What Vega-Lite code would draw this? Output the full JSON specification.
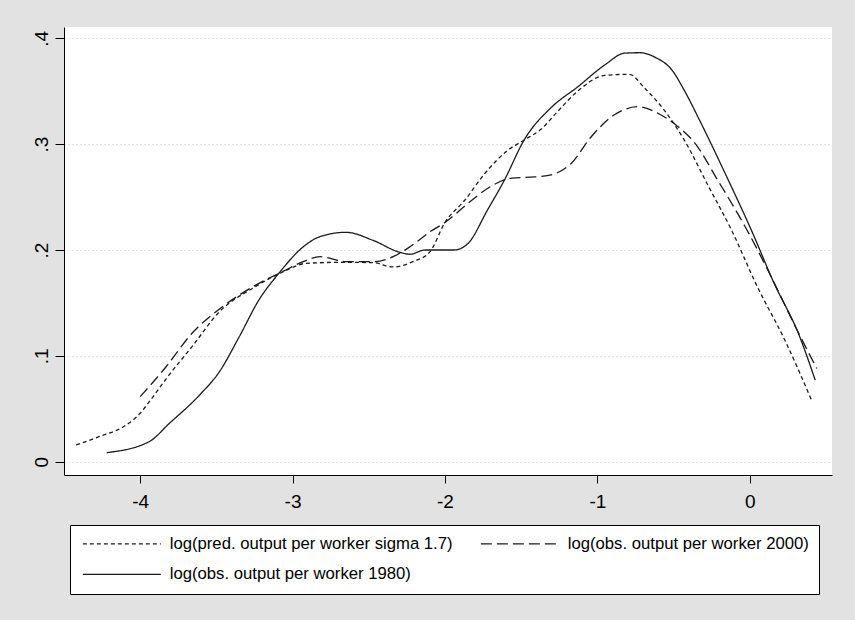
{
  "$schema": "https://vega.github.io/schema/vega-lite/v6.json",
  "width": 768,
  "height": 448,
  "autosize": {"type": "none"},
  "padding": {"left": 64, "top": 27, "right": 23, "bottom": 145},
  "background": "#e2e2e2",
  "config": {
    "view": {"fill": "white", "stroke": null},
    "font": "Liberation Sans",
    "axis": {
      "domainColor": "black", "domainWidth": 1, "tickColor": "black", "tickWidth": 1,
      "labelColor": "black", "labelFont": "Liberation Sans", "labelFontSize": 19, "title": null
    }
  },
  "data": {"values": [
    {"s": "log(pred. output per worker sigma  1.7)", "x": -4.42, "y": 0.0158},
    {"s": "log(pred. output per worker sigma  1.7)", "x": -4.27, "y": 0.0236},
    {"s": "log(pred. output per worker sigma  1.7)", "x": -4.11, "y": 0.033},
    {"s": "log(pred. output per worker sigma  1.7)", "x": -4.0, "y": 0.0457},
    {"s": "log(pred. output per worker sigma  1.7)", "x": -3.94, "y": 0.0567},
    {"s": "log(pred. output per worker sigma  1.7)", "x": -3.81, "y": 0.082},
    {"s": "log(pred. output per worker sigma  1.7)", "x": -3.66, "y": 0.1087},
    {"s": "log(pred. output per worker sigma  1.7)", "x": -3.48, "y": 0.1417},
    {"s": "log(pred. output per worker sigma  1.7)", "x": -3.26, "y": 0.164},
    {"s": "log(pred. output per worker sigma  1.7)", "x": -3.06, "y": 0.1795},
    {"s": "log(pred. output per worker sigma  1.7)", "x": -2.91, "y": 0.1874},
    {"s": "log(pred. output per worker sigma  1.7)", "x": -2.65, "y": 0.1884},
    {"s": "log(pred. output per worker sigma  1.7)", "x": -2.47, "y": 0.188},
    {"s": "log(pred. output per worker sigma  1.7)", "x": -2.34, "y": 0.184},
    {"s": "log(pred. output per worker sigma  1.7)", "x": -2.21, "y": 0.189},
    {"s": "log(pred. output per worker sigma  1.7)", "x": -2.10, "y": 0.198},
    {"s": "log(pred. output per worker sigma  1.7)", "x": -2.00, "y": 0.226},
    {"s": "log(pred. output per worker sigma  1.7)", "x": -1.87, "y": 0.247},
    {"s": "log(pred. output per worker sigma  1.7)", "x": -1.74, "y": 0.272},
    {"s": "log(pred. output per worker sigma  1.7)", "x": -1.59, "y": 0.294},
    {"s": "log(pred. output per worker sigma  1.7)", "x": -1.48, "y": 0.304},
    {"s": "log(pred. output per worker sigma  1.7)", "x": -1.37, "y": 0.314},
    {"s": "log(pred. output per worker sigma  1.7)", "x": -1.26, "y": 0.331},
    {"s": "log(pred. output per worker sigma  1.7)", "x": -1.13, "y": 0.350},
    {"s": "log(pred. output per worker sigma  1.7)", "x": -0.95, "y": 0.365},
    {"s": "log(pred. output per worker sigma  1.7)", "x": -0.79, "y": 0.366},
    {"s": "log(pred. output per worker sigma  1.7)", "x": -0.69, "y": 0.353},
    {"s": "log(pred. output per worker sigma  1.7)", "x": -0.56, "y": 0.332},
    {"s": "log(pred. output per worker sigma  1.7)", "x": -0.43, "y": 0.304},
    {"s": "log(pred. output per worker sigma  1.7)", "x": -0.27, "y": 0.260},
    {"s": "log(pred. output per worker sigma  1.7)", "x": -0.12, "y": 0.219},
    {"s": "log(pred. output per worker sigma  1.7)", "x": 0.05, "y": 0.1653},
    {"s": "log(pred. output per worker sigma  1.7)", "x": 0.23, "y": 0.115},
    {"s": "log(pred. output per worker sigma  1.7)", "x": 0.41, "y": 0.0567},

    {"s": "log(obs. output per worker 2000)", "x": -4.0, "y": 0.0614},
    {"s": "log(obs. output per worker 2000)", "x": -3.83, "y": 0.0897},
    {"s": "log(obs. output per worker 2000)", "x": -3.66, "y": 0.1213},
    {"s": "log(obs. output per worker 2000)", "x": -3.46, "y": 0.1464},
    {"s": "log(obs. output per worker 2000)", "x": -3.26, "y": 0.1653},
    {"s": "log(obs. output per worker 2000)", "x": -3.06, "y": 0.180},
    {"s": "log(obs. output per worker 2000)", "x": -2.93, "y": 0.189},
    {"s": "log(obs. output per worker 2000)", "x": -2.82, "y": 0.1937},
    {"s": "log(obs. output per worker 2000)", "x": -2.65, "y": 0.189},
    {"s": "log(obs. output per worker 2000)", "x": -2.47, "y": 0.189},
    {"s": "log(obs. output per worker 2000)", "x": -2.34, "y": 0.1937},
    {"s": "log(obs. output per worker 2000)", "x": -2.23, "y": 0.203},
    {"s": "log(obs. output per worker 2000)", "x": -2.10, "y": 0.217},
    {"s": "log(obs. output per worker 2000)", "x": -2.00, "y": 0.226},
    {"s": "log(obs. output per worker 2000)", "x": -1.85, "y": 0.244},
    {"s": "log(obs. output per worker 2000)", "x": -1.70, "y": 0.260},
    {"s": "log(obs. output per worker 2000)", "x": -1.56, "y": 0.268},
    {"s": "log(obs. output per worker 2000)", "x": -1.41, "y": 0.269},
    {"s": "log(obs. output per worker 2000)", "x": -1.28, "y": 0.272},
    {"s": "log(obs. output per worker 2000)", "x": -1.17, "y": 0.282},
    {"s": "log(obs. output per worker 2000)", "x": -1.04, "y": 0.307},
    {"s": "log(obs. output per worker 2000)", "x": -0.89, "y": 0.3275},
    {"s": "log(obs. output per worker 2000)", "x": -0.73, "y": 0.3354},
    {"s": "log(obs. output per worker 2000)", "x": -0.60, "y": 0.329},
    {"s": "log(obs. output per worker 2000)", "x": -0.47, "y": 0.3165},
    {"s": "log(obs. output per worker 2000)", "x": -0.36, "y": 0.301},
    {"s": "log(obs. output per worker 2000)", "x": -0.21, "y": 0.266},
    {"s": "log(obs. output per worker 2000)", "x": -0.03, "y": 0.222},
    {"s": "log(obs. output per worker 2000)", "x": 0.14, "y": 0.175},
    {"s": "log(obs. output per worker 2000)", "x": 0.30, "y": 0.1275},
    {"s": "log(obs. output per worker 2000)", "x": 0.44, "y": 0.088},

    {"s": "log(obs. output per worker 1980)", "x": -4.22, "y": 0.0085},
    {"s": "log(obs. output per worker 1980)", "x": -3.94, "y": 0.019},
    {"s": "log(obs. output per worker 1980)", "x": -3.81, "y": 0.036},
    {"s": "log(obs. output per worker 1980)", "x": -3.61, "y": 0.063},
    {"s": "log(obs. output per worker 1980)", "x": -3.48, "y": 0.085},
    {"s": "log(obs. output per worker 1980)", "x": -3.35, "y": 0.118},
    {"s": "log(obs. output per worker 1980)", "x": -3.22, "y": 0.153},
    {"s": "log(obs. output per worker 1980)", "x": -3.09, "y": 0.178},
    {"s": "log(obs. output per worker 1980)", "x": -2.93, "y": 0.203},
    {"s": "log(obs. output per worker 1980)", "x": -2.82, "y": 0.2126},
    {"s": "log(obs. output per worker 1980)", "x": -2.65, "y": 0.2167},
    {"s": "log(obs. output per worker 1980)", "x": -2.47, "y": 0.209},
    {"s": "log(obs. output per worker 1980)", "x": -2.30, "y": 0.198},
    {"s": "log(obs. output per worker 1980)", "x": -2.23, "y": 0.196},
    {"s": "log(obs. output per worker 1980)", "x": -2.13, "y": 0.200},
    {"s": "log(obs. output per worker 1980)", "x": -1.94, "y": 0.200},
    {"s": "log(obs. output per worker 1980)", "x": -1.85, "y": 0.206},
    {"s": "log(obs. output per worker 1980)", "x": -1.72, "y": 0.238},
    {"s": "log(obs. output per worker 1980)", "x": -1.61, "y": 0.266},
    {"s": "log(obs. output per worker 1980)", "x": -1.48, "y": 0.304},
    {"s": "log(obs. output per worker 1980)", "x": -1.30, "y": 0.335},
    {"s": "log(obs. output per worker 1980)", "x": -1.13, "y": 0.354},
    {"s": "log(obs. output per worker 1980)", "x": -0.95, "y": 0.375},
    {"s": "log(obs. output per worker 1980)", "x": -0.82, "y": 0.386},
    {"s": "log(obs. output per worker 1980)", "x": -0.72, "y": 0.3864},
    {"s": "log(obs. output per worker 1980)", "x": -0.62, "y": 0.382},
    {"s": "log(obs. output per worker 1980)", "x": -0.51, "y": 0.370},
    {"s": "log(obs. output per worker 1980)", "x": -0.43, "y": 0.351},
    {"s": "log(obs. output per worker 1980)", "x": -0.32, "y": 0.320},
    {"s": "log(obs. output per worker 1980)", "x": -0.16, "y": 0.272},
    {"s": "log(obs. output per worker 1980)", "x": 0.01, "y": 0.219},
    {"s": "log(obs. output per worker 1980)", "x": 0.16, "y": 0.1686},
    {"s": "log(obs. output per worker 1980)", "x": 0.32, "y": 0.121},
    {"s": "log(obs. output per worker 1980)", "x": 0.43, "y": 0.077}
  ]},
  "mark": {"type": "line", "interpolate": "monotone", "color": "#1a1a1a", "strokeWidth": 1.3},
  "encoding": {
    "x": {
      "field": "x", "type": "quantitative",
      "scale": {"domain": [-4.5, 0.54], "nice": false, "zero": false},
      "axis": {"values": [-4, -3, -2, -1, 0], "grid": false, "tickSize": 8, "labelPadding": 9, "labelExpr": "'' + datum.value"}
    },
    "y": {
      "field": "y", "type": "quantitative",
      "scale": {"domain": [-0.0126, 0.4107], "nice": false, "zero": false},
      "axis": {
        "values": [0, 0.1, 0.2, 0.3, 0.4], "tickSize": 9, "labelAngle": -90, "labelAlign": "center", "labelBaseline": "bottom",
        "labelPadding": 4, "labelExpr": "datum.value == 0 ? '0' : replace(format(datum.value, '.1f'), '0.', '.')",
        "grid": true, "gridColor": "#c4c4c4", "gridDash": [1, 3], "gridWidth": 1
      }
    },
    "strokeDash": {
      "field": "s", "type": "nominal",
      "scale": {
        "domain": ["log(pred. output per worker sigma  1.7)", "log(obs. output per worker 2000)", "log(obs. output per worker 1980)"],
        "range": [[4, 3], [11, 5], [1, 0]]
      },
      "legend": {
        "title": null, "orient": "none", "legendX": 6, "legendY": 498, "direction": "horizontal", "columns": 2,
        "symbolType": "M-1.1,0H14.5", "symbolSize": 100, "symbolStrokeWidth": 1.3, "symbolStrokeColor": "#1a1a1a",
        "labelFont": "Liberation Sans", "labelFontSize": 16.7, "labelColor": "black", "labelLimit": 0, "labelOffset": 73,
        "padding": 10, "rowPadding": 13, "columnPadding": 20, "fillColor": "white", "strokeColor": "black"
      }
    }
  }
}
